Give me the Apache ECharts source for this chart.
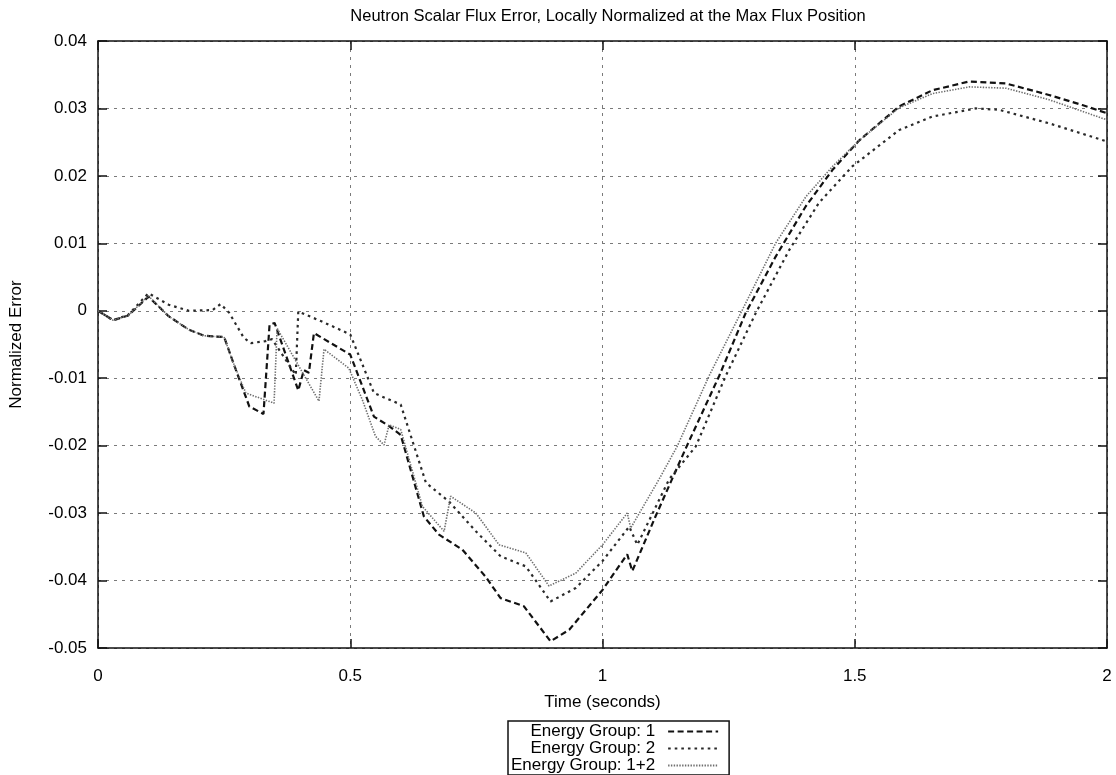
<!DOCTYPE html>
<html>
<head>
<meta charset="utf-8">
<script src="https://cdn.jsdelivr.net/npm/echarts@6/dist/echarts.min.js"></script>
<style>
  html, body { margin: 0; padding: 0; background: #fff; }
  #chart { width: 1116px; height: 775px; }
</style>
</head>
<body>
<div id="chart"></div>
<script>
// values
var timeG1 = [0, 0.03, 0.06, 0.1, 0.14, 0.18, 0.21, 0.25, 0.273, 0.3, 0.328, 0.34, 0.35, 0.397, 0.408,
  0.418, 0.428, 0.5, 0.547, 0.577, 0.6, 0.646, 0.676, 0.722, 0.768, 0.798, 0.844, 0.897, 0.934, 1.0,
  1.049, 1.059, 1.105, 1.165, 1.231, 1.284, 1.343, 1.403, 1.456, 1.508, 1.588, 1.654, 1.727, 1.8,
  1.885, 1.951, 2.0];
var errG1 = [0, -0.0014, -0.0007, 0.0021, -0.0008, -0.0028, -0.0037, -0.0039, -0.0087, -0.0142, -0.0153,
  -0.0021, -0.0018, -0.0118, -0.0088, -0.0092, -0.0033, -0.0065, -0.0157, -0.0171, -0.0184, -0.0305,
  -0.0332, -0.0354, -0.0394, -0.0426, -0.0438, -0.049, -0.0473, -0.0414, -0.0361, -0.0386, -0.0305,
  -0.0204, -0.0097, -0.0003, 0.008, 0.0155, 0.0209, 0.0252, 0.0303, 0.0327, 0.034, 0.0337, 0.032,
  0.0305, 0.0293];

var timeG2 = [0, 0.03, 0.06, 0.1, 0.14, 0.18, 0.227, 0.243, 0.26, 0.289, 0.303, 0.332, 0.345, 0.392,
  0.397, 0.444, 0.5, 0.547, 0.6, 0.65, 0.696, 0.749, 0.798, 0.848, 0.897, 0.947, 1.0, 1.053, 1.069,
  1.132, 1.185, 1.244, 1.304, 1.37, 1.429, 1.495, 1.588, 1.654, 1.74, 1.786, 1.885, 2.0];
var errG2 = [0, -0.0014, -0.0006, 0.0026, 0.0009, 0.0, 0.0001, 0.001, -0.0003, -0.004, -0.0048, -0.0045,
  -0.0042, -0.0095, -0.0001, -0.0016, -0.0035, -0.0122, -0.0139, -0.0255, -0.0283, -0.0327, -0.0364,
  -0.0379, -0.0431, -0.0411, -0.0371, -0.032, -0.0347, -0.025, -0.0201, -0.0097, -0.0003, 0.009,
  0.016, 0.0214, 0.0268, 0.0288, 0.03, 0.0298, 0.0278, 0.0251];

var timeG12 = [0, 0.03, 0.06, 0.1, 0.14, 0.18, 0.21, 0.25, 0.266, 0.293, 0.349, 0.355, 0.438, 0.448,
  0.497, 0.524, 0.55, 0.567, 0.577, 0.6, 0.643, 0.686, 0.699, 0.749, 0.795, 0.848, 0.894, 0.947, 1.0,
  1.049, 1.056, 1.112, 1.148, 1.211, 1.277, 1.343, 1.403, 1.456, 1.508, 1.588, 1.654, 1.727, 1.8,
  1.885, 2.0];
var errG12 = [0, -0.0014, -0.0007, 0.0022, -0.0008, -0.0028, -0.0037, -0.0039, -0.0073, -0.0122, -0.0137,
  -0.0026, -0.0134, -0.0057, -0.0085, -0.0132, -0.0186, -0.0199, -0.0169, -0.0176, -0.029, -0.0327,
  -0.0275, -0.03, -0.0347, -0.0359, -0.0408, -0.0389, -0.0347, -0.03, -0.0322, -0.025, -0.0201,
  -0.0097, 0.0001, 0.01, 0.0169, 0.0214, 0.0252, 0.0301, 0.0322, 0.0332, 0.033, 0.0313, 0.0283];

var seriesNames = ['Energy Group: 1', 'Energy Group: 2', 'Energy Group: 1+2'];

function pairs(t, v) {
  return t.map(function (x, i) { return [x, v[i]]; });
}

var FONT = 'Liberation Sans';
var box = echarts.init(document.getElementById('chart'));

var gridLine = { show: true, lineStyle: { color: '#7a7a7a', width: 1, type: [3, 5] } };
var frameLine = { show: true, onZero: false, lineStyle: { color: '#111', width: 1.5 } };
var innerTick = { show: true, inside: true, length: 9, lineStyle: { color: '#111', width: 1.5 } };

var option = {
  backgroundColor: '#fff',
  animation: false,
  textStyle: { fontFamily: FONT, color: '#000' },
  title: {
    text: 'Neutron Scalar Flux Error, Locally Normalized at the Max Flux Position',
    left: 603,
    top: 3,
    textAlign: 'center',
    textStyle: { fontFamily: FONT, fontSize: 16.5, fontWeight: 'normal', color: '#000' }
  },
  grid: { left: 98, right: 9, top: 41, bottom: 127 },
  legend: {
    data: seriesNames,
    orient: 'vertical',
    align: 'right',
    left: 508,
    top: 721,
    height: 200,
    padding: [2, 10, 1, 3],
    itemGap: 0,
    itemWidth: 50,
    itemHeight: 16.5,
    borderColor: '#111',
    borderWidth: 1.5,
    borderRadius: 0,
    itemStyle: { opacity: 0 },
    textStyle: { fontFamily: FONT, fontSize: 17, color: '#000', lineHeight: 16.5, padding: [0, 8, 0, 0] }
  },
  xAxis: [{
    type: 'value',
    min: 0, max: 2, interval: 0.5,
    position: 'bottom',
    name: 'Time (seconds)',
    nameLocation: 'middle',
    nameGap: 46,
    nameTextStyle: { fontFamily: FONT, fontSize: 17, color: '#000' },
    axisLine: frameLine,
    axisTick: innerTick,
    axisLabel: { margin: 20, fontFamily: FONT, fontSize: 17, color: '#000' },
    splitLine: gridLine
  }, {
    type: 'value',
    min: 0, max: 2, interval: 0.5,
    position: 'top',
    axisLine: frameLine,
    axisTick: innerTick,
    axisLabel: { show: false },
    splitLine: { show: false }
  }],
  yAxis: [{
    type: 'value',
    min: -0.05, max: 0.04, interval: 0.01,
    position: 'left',
    name: 'Normalized Error',
    nameLocation: 'middle',
    nameRotate: 90,
    nameGap: 73,
    nameTextStyle: { fontFamily: FONT, fontSize: 17, color: '#000' },
    axisLine: frameLine,
    axisTick: innerTick,
    axisLabel: {
      margin: 11, fontFamily: FONT, fontSize: 17, color: '#000',
      formatter: function (v) { return String(+v.toFixed(2)); }
    },
    splitLine: gridLine
  }, {
    type: 'value',
    min: -0.05, max: 0.04, interval: 0.01,
    position: 'right',
    axisLine: frameLine,
    axisTick: innerTick,
    axisLabel: { show: false },
    splitLine: { show: false }
  }],
  series: [{
    name: seriesNames[0],
    type: 'line',
    symbol: 'none',
    data: pairs(timeG1, errG1),
    lineStyle: { color: '#111', width: 2.2, type: [6, 3.5] },
    itemStyle: { color: '#111' }
  }, {
    name: seriesNames[1],
    type: 'line',
    symbol: 'none',
    data: pairs(timeG2, errG2),
    lineStyle: { color: '#2a2a2a', width: 2.2, type: [2.6, 4] },
    itemStyle: { color: '#2a2a2a' }
  }, {
    name: seriesNames[2],
    type: 'line',
    symbol: 'none',
    data: pairs(timeG12, errG12),
    lineStyle: { color: '#6e6e6e', width: 1.6, type: [1.4, 1.4] },
    itemStyle: { color: '#6e6e6e' }
  }]
};

box.setOption(option);
</script>
</body>
</html>
